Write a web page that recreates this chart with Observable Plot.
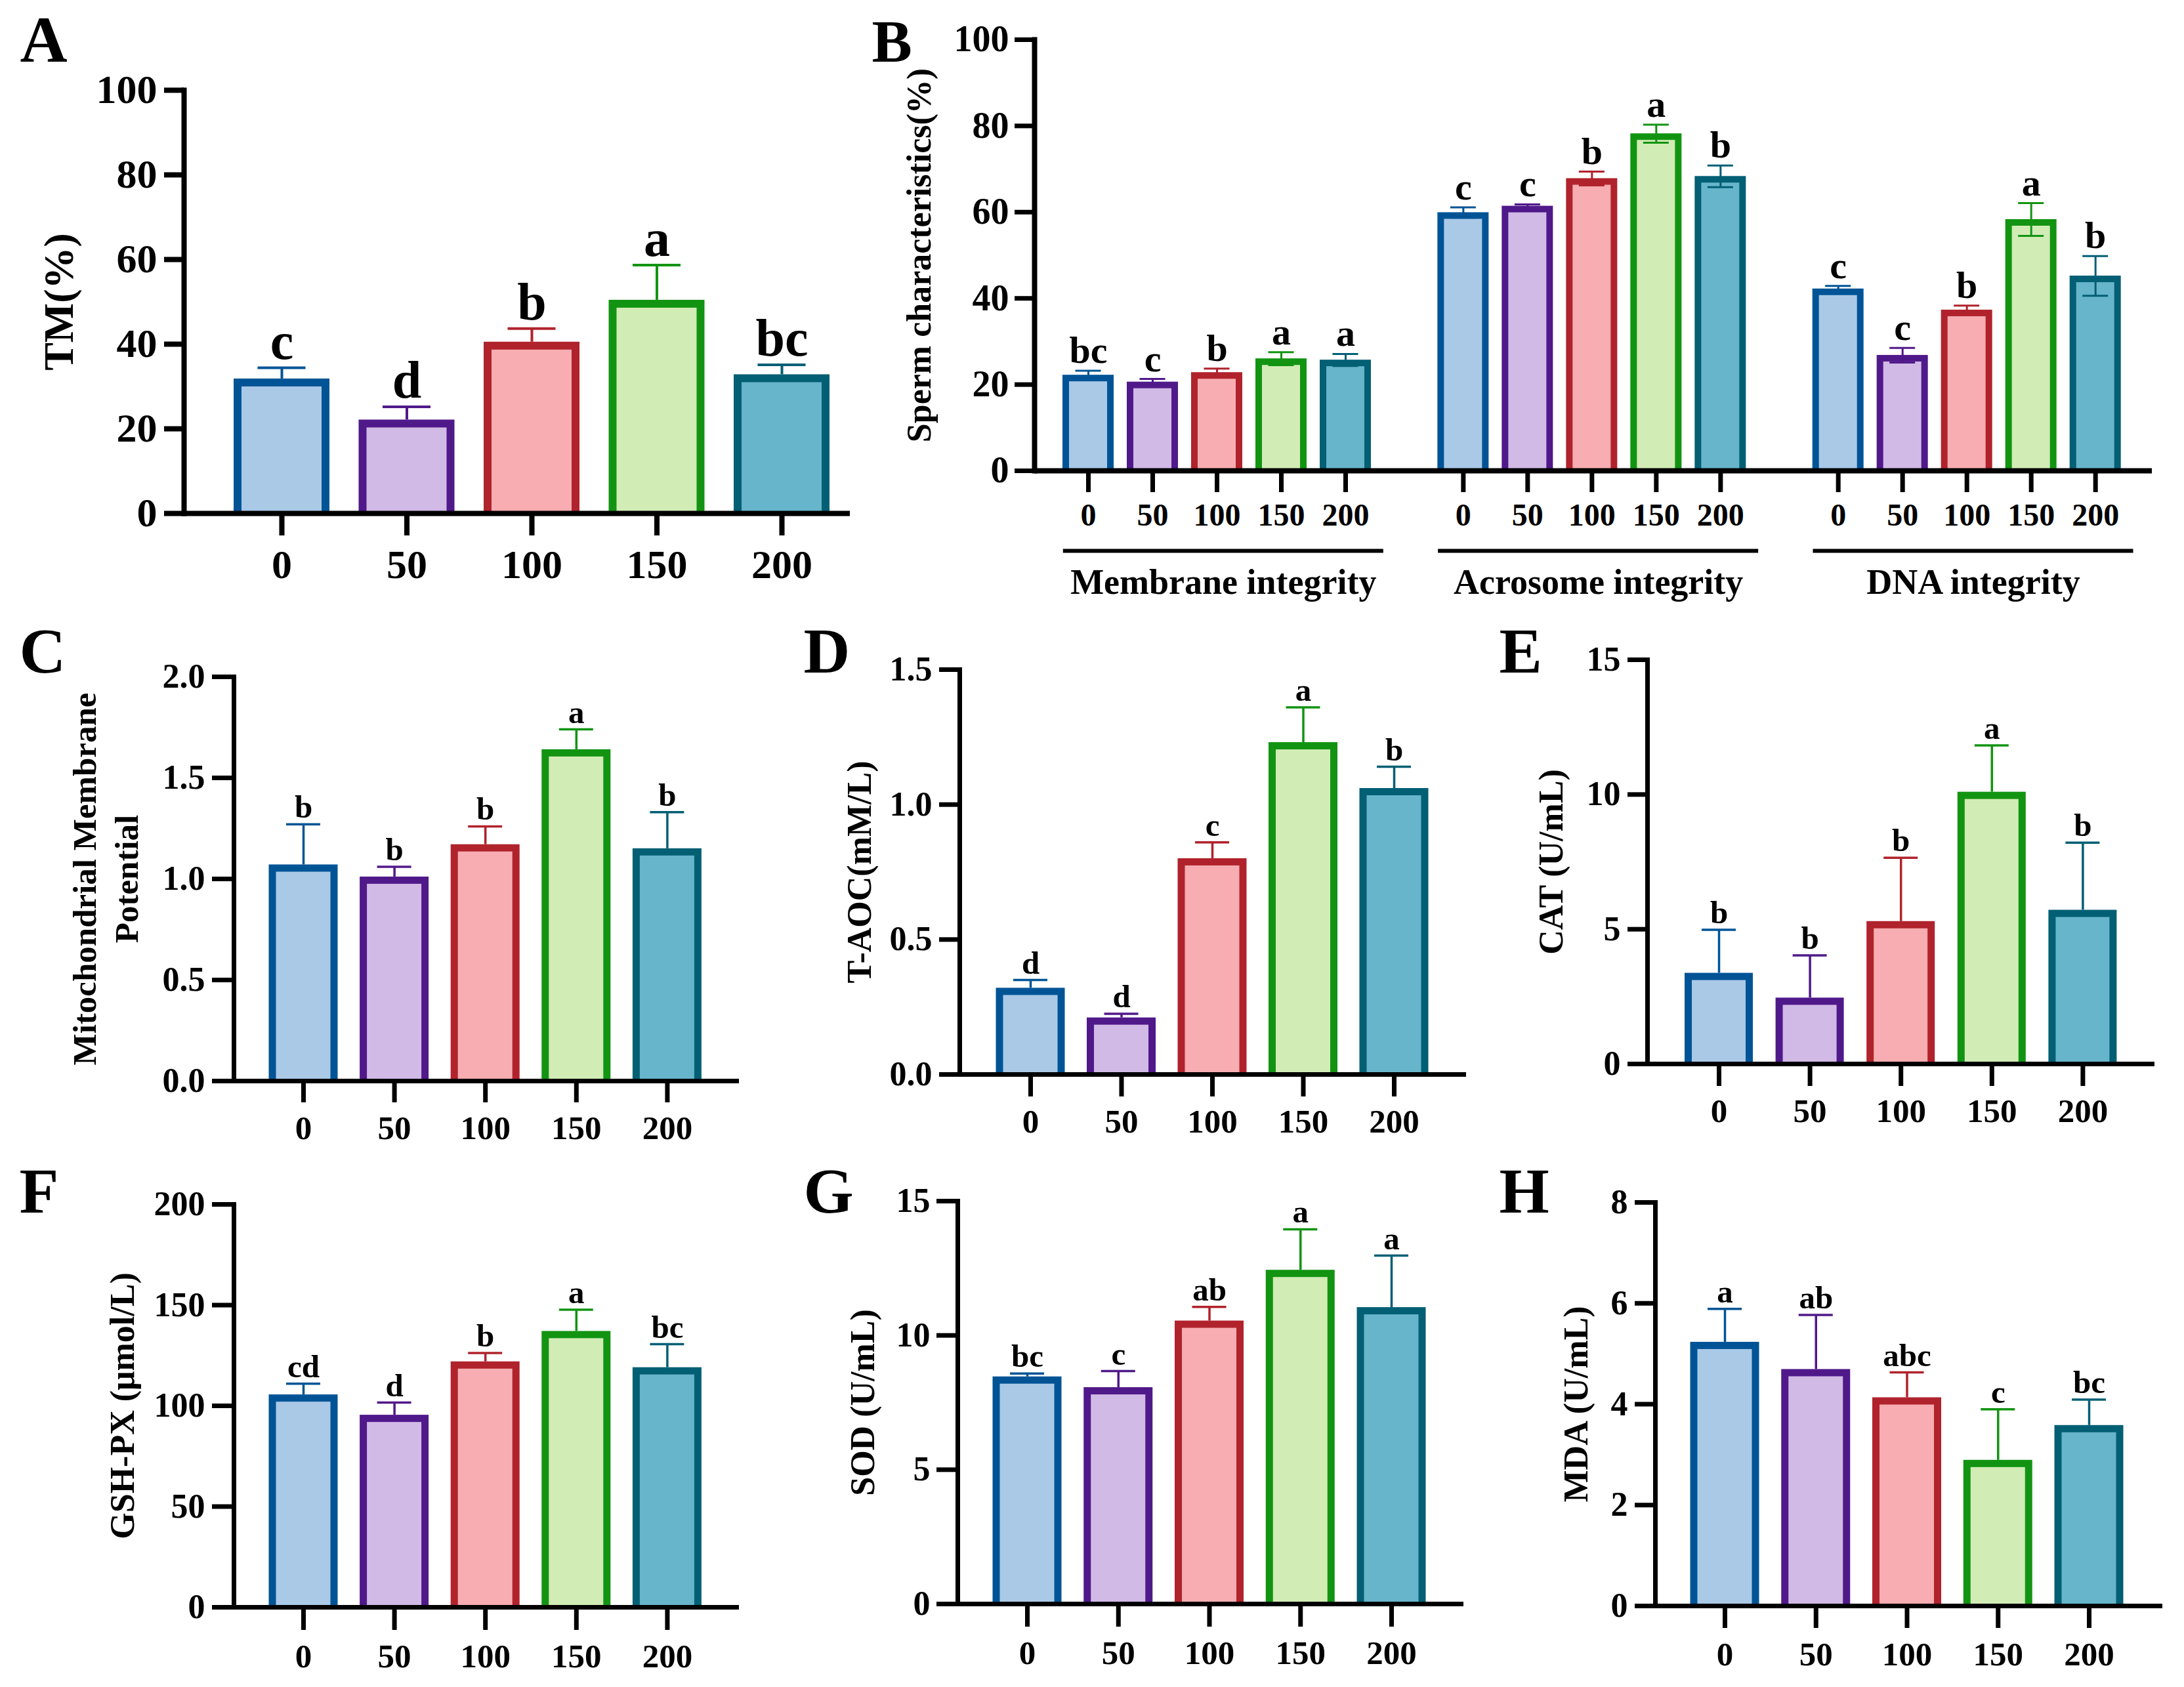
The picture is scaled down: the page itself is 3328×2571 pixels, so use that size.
<!DOCTYPE html>
<html><head><meta charset="utf-8">
<script src="https://cdn.jsdelivr.net/npm/d3@7"></script>
<script src="https://cdn.jsdelivr.net/npm/@observablehq/plot@0.6"></script>
<style>
html,body{margin:0;padding:0;background:#fff;}
#fig{position:relative;width:3328px;height:2571px;background:#fff;overflow:hidden;}
#fig > div{position:absolute;}
</style></head><body><div id="fig"></div>
<script>
// ---------------- DATA ----------------
const doses = ["0", "50", "100", "150", "200"];
const fillColors = ["#aac9e7", "#d1bae6", "#f7adb1", "#d2ecb6", "#67b5cb"];
const strokeColors = ["#005496", "#50198a", "#b0232c", "#129412", "#035f74"];

// A: total motility
const tmMean = [31.8, 22.1, 40.5, 50.4, 32.8];
const tmSD = [2.6, 3.1, 3.2, 8.3, 2.3];
const tmLetters = ["c", "d", "b", "a", "bc"];
const tmTicks = [0, 20, 40, 60, 80, 100];

// B: sperm characteristics
const spermGroups = ["Membrane integrity", "Acrosome integrity", "DNA integrity"];
const membraneMean = [22.2, 20.6, 22.8, 26.0, 25.7];
const membraneSD = [1.0, 0.7, 0.9, 1.5, 1.4];
const membraneLetters = ["bc", "c", "b", "a", "a"];
const acrosomeMean = [59.9, 61.4, 67.8, 78.2, 68.3];
const acrosomeSD = [1.2, 0.4, 1.6, 2.1, 2.5];
const acrosomeLetters = ["c", "c", "b", "a", "b"];
const dnaMean = [42.2, 26.8, 37.3, 58.3, 45.2];
const dnaSD = [0.7, 1.7, 1.0, 3.8, 4.6];
const dnaLetters = ["c", "c", "b", "a", "b"];
const spermTicks = [0, 20, 40, 60, 80, 100];

// C: mitochondrial membrane potential
const mmpMean = [1.07, 1.01, 1.17, 1.64, 1.15];
const mmpSD = [0.20, 0.05, 0.09, 0.10, 0.18];
const mmpLetters = ["b", "b", "b", "a", "b"];
const mmpTicks = [0, 0.5, 1.0, 1.5, 2.0];

// D: T-AOC
const taocMean = [0.32, 0.21, 0.80, 1.23, 1.06];
const taocSD = [0.03, 0.015, 0.06, 0.13, 0.08];
const taocLetters = ["d", "d", "c", "a", "b"];
const taocTicks = [0, 0.5, 1.0, 1.5];

// E: CAT
const catMean = [3.37, 2.45, 5.29, 10.09, 5.71];
const catSD = [1.61, 1.58, 2.36, 1.73, 2.50];
const catLetters = ["b", "b", "b", "a", "b"];
const catTicks = [0, 5, 10, 15];

// F: GSH-PX
const gshMean = [105.5, 95.4, 121.9, 137.0, 119.0];
const gshSD = [5.5, 6.2, 4.3, 10.7, 11.6];
const gshLetters = ["cd", "d", "b", "a", "bc"];
const gshTicks = [0, 50, 100, 150, 200];

// G: SOD
const sodMean = [8.46, 8.06, 10.54, 12.43, 11.04];
const sodSD = [0.12, 0.61, 0.52, 1.52, 1.93];
const sodLetters = ["bc", "c", "ab", "a", "a"];
const sodTicks = [0, 5, 10, 15];

// H: MDA
const mdaMean = [5.23, 4.69, 4.13, 2.89, 3.58];
const mdaSD = [0.66, 1.08, 0.50, 1.01, 0.51];
const mdaLetters = ["a", "ab", "abc", "c", "bc"];
const mdaTicks = [0, 2, 4, 6, 8];

// ---------------- LAYOUT ----------------
const FONT = "'Liberation Serif', 'Times New Roman', serif";
const STYLE = `font-family: ${FONT}; font-weight: bold; background: transparent; max-width: none; overflow: visible; color: black;`;
const small = {barStroke: 11, errW: 3.5, capW: 52, letterSize: 49, letterDy: -10, yTickFont: 52, xTickFont: 51, ylabelSize: 52, axisW: 7, tickW: 7, tagSize: 98};

const layoutA = {box: [0, 0, 1330, 920], axisX: 280, topY: 137, zeroY: 782, rightX: 1295, c0: 429, step: 190.5, barW: 146,
  barStroke: 12, errW: 4, capW: 73, letterSize: 80, letterDy: -14, yTickSize: 30, yTickPad: 11, yTickFont: 62,
  xTickSize: 34, xTickPad: 20, xTickFont: 62, axisW: 8, tickW: 8, ylabelCx: 85, ylabelSize: 64, tagX: 30, tagY: 22, tagSize: 100};
const layoutC = {...small, box: [0, 920, 1150, 840], axisX: 356, topY: 1031, zeroY: 1647, rightX: 1126, c0: 462, step: 138.6, barW: 105,
  yTickSize: 33, yTickPad: 11, xTickSize: 33, xTickPad: 19, ylabelCx: 157, ylabelSize: 51, tagX: 29, tagY: 955};
const layoutD = {...small, box: [1150, 920, 1100, 840], axisX: 1462, topY: 1020, zeroY: 1637, rightX: 2234, c0: 1570, step: 138.5, barW: 105,
  yTickSize: 31, yTickPad: 11, xTickSize: 34, xTickPad: 18, ylabelCx: 1306, tagX: 1224, tagY: 955};
const layoutE = {...small, box: [2250, 920, 1078, 840], axisX: 2510, topY: 1005, zeroY: 1621, rightX: 3283, c0: 2619, step: 138.6, barW: 104,
  yTickSize: 30, yTickPad: 11, xTickSize: 34, xTickPad: 18, ylabelCx: 2360, tagX: 2284, tagY: 955};
const layoutF = {...small, box: [0, 1760, 1150, 811], axisX: 356, topY: 1835, zeroY: 2449, rightX: 1126, c0: 462, step: 138.6, barW: 105,
  yTickSize: 33, yTickPad: 11, xTickSize: 35, xTickPad: 20, ylabelCx: 183, tagX: 29, tagY: 1778};
const layoutG = {...small, box: [1150, 1760, 1100, 811], axisX: 1459, topY: 1830, zeroY: 2444, rightX: 2230, c0: 1565, step: 138.75, barW: 105,
  yTickSize: 32, yTickPad: 10, xTickSize: 35, xTickPad: 20, ylabelCx: 1311, tagX: 1224, tagY: 1778};
const layoutH = {...small, box: [2250, 1760, 1078, 811], axisX: 2522, topY: 1832, zeroY: 2447, rightX: 3295, c0: 2628, step: 138.75, barW: 105,
  yTickSize: 31, yTickPad: 11, xTickSize: 34, xTickPad: 20, ylabelCx: 2398, tagX: 2284, tagY: 1778};
const layoutB = {box: [1300, 0, 2028, 940], axisX: 1576, topY: 60, zeroY: 717, rightX: 3279, p0: 1658, step: 98, groupStride: 5.83,
  barW: 78, barStroke: 10, errW: 3, capW: 39, letterSize: 58, letterDy: -12, yTickSize: 30, yTickPad: 9, yTickFont: 56,
  xTickSize: 33, xTickPad: 16, xTickFont: 48, axisW: 8, tickW: 7, ylabelCx: 1397, ylabelSize: 52, tagX: 1328, tagY: 28, tagSize: 92,
  ulY: 839, ulW: 6, ulShift: 0.1, ulHalf: 2.49, glY: 887, glSize: 54};

// ---------------- PANELS ----------------
function yLabelMark(L, label) {
  return Plot.text([label], {text: d => d, frameAnchor: "left", rotate: -90, dx: L.ylabelCx - L.axisX,
    textAnchor: "middle", lineAnchor: "middle", lineHeight: 1.25, fontSize: L.ylabelSize, fontWeight: "bold", fill: "black"});
}
function tagMark(L, tag) {
  return Plot.text([tag], {text: d => d, frameAnchor: "top-left", dx: L.tagX - L.axisX, dy: L.tagY - L.topY,
    textAnchor: "start", lineAnchor: "top", fontSize: L.tagSize, fontWeight: "bold", fill: "black"});
}

function bandPanel(L, mean, sd, letters, ticks, fmt, ylabel, tag) {
  const [bx, by, bw, bh] = L.box;
  const rows = doses.map((d, i) => ({dose: d, mean: mean[i], top: mean[i] + sd[i], letter: letters[i],
    fill: fillColors[i], stroke: strokeColors[i]}));
  const pad = 1 - L.barW / L.step;
  const sw = L.barStroke;
  const capInset = (L.barW - L.capW) / 2;
  return Plot.plot({
    width: bw, height: bh,
    marginLeft: L.axisX - bx, marginRight: bx + bw - L.rightX,
    marginTop: L.topY - by, marginBottom: by + bh - L.zeroY,
    style: STYLE,
    x: {type: "band", domain: doses, range: [L.c0 - L.step / 2 - bx, L.c0 + L.step * (doses.length - 0.5) - bx],
        paddingInner: pad, paddingOuter: pad / 2, round: false},
    y: {domain: [0, ticks[ticks.length - 1]]},
    color: {type: "identity"},
    marks: [
      Plot.barY(rows, {x: "dose", y: "mean", fill: "fill", stroke: "stroke", strokeWidth: sw,
        insetTop: sw / 2, insetLeft: sw / 2, insetRight: sw / 2, insetBottom: -sw / 2, clip: "frame"}),
      Plot.ruleX(rows, {x: "dose", y1: "mean", y2: "top", stroke: "stroke", strokeWidth: L.errW}),
      Plot.tickY(rows, {x: "dose", y: "top", stroke: "stroke", strokeWidth: L.errW, insetLeft: capInset, insetRight: capInset}),
      Plot.text(rows, {x: "dose", y: "top", text: "letter", lineAnchor: "bottom", dy: L.letterDy,
        fontSize: L.letterSize, fontWeight: "bold", fill: "black"}),
      Plot.ruleY([0], {strokeWidth: L.axisW, stroke: "black"}),
      Plot.frame({anchor: "left", strokeWidth: L.axisW, stroke: "black"}),
      Plot.axisY({ticks, tickFormat: fmt, tickSize: L.yTickSize, tickPadding: L.yTickPad, fontSize: L.yTickFont,
        strokeWidth: L.tickW, label: null}),
      Plot.axisX({tickSize: L.xTickSize, tickPadding: L.xTickPad, fontSize: L.xTickFont, strokeWidth: L.tickW, label: null}),
      yLabelMark(L, ylabel),
      tagMark(L, tag)
    ]
  });
}

function spermPanel(L) {
  const [bx, by, bw, bh] = L.box;
  const means = [membraneMean, acrosomeMean, dnaMean];
  const sds = [membraneSD, acrosomeSD, dnaSD];
  const lets = [membraneLetters, acrosomeLetters, dnaLetters];
  const rows = [];
  spermGroups.forEach((g, gi) => doses.forEach((d, i) => {
    rows.push({group: g, dose: d, pos: gi * L.groupStride + i, mean: means[gi][i],
      lo: means[gi][i] - sds[gi][i], hi: means[gi][i] + sds[gi][i], letter: lets[gi][i],
      fill: fillColors[i], stroke: strokeColors[i]});
  }));
  const groupRows = spermGroups.map((g, gi) => ({name: g, center: gi * L.groupStride + (doses.length - 1) / 2}));
  const posLabel = new Map(rows.map(r => [r.pos, r.dose]));
  const half = L.barW / L.step / 2;
  const capHalf = L.capW / L.step / 2;
  const sw = L.barStroke;
  return Plot.plot({
    width: bw, height: bh,
    marginLeft: L.axisX - bx, marginRight: bx + bw - L.rightX,
    marginTop: L.topY - by, marginBottom: by + bh - L.zeroY,
    style: STYLE,
    x: {domain: [(L.axisX - L.p0) / L.step, (L.rightX - L.p0) / L.step]},
    y: {domain: [0, spermTicks[spermTicks.length - 1]]},
    color: {type: "identity"},
    marks: [
      Plot.rect(rows, {x1: d => d.pos - half, x2: d => d.pos + half, y1: () => 0, y2: "mean",
        fill: "fill", stroke: "stroke", strokeWidth: sw,
        insetTop: sw / 2, insetLeft: sw / 2, insetRight: sw / 2, insetBottom: -sw / 2, clip: "frame"}),
      Plot.ruleX(rows, {x: "pos", y1: "lo", y2: "hi", stroke: "stroke", strokeWidth: L.errW}),
      Plot.ruleY(rows, {y: "hi", x1: d => d.pos - capHalf, x2: d => d.pos + capHalf, stroke: "stroke", strokeWidth: L.errW}),
      Plot.ruleY(rows, {y: "lo", x1: d => d.pos - capHalf, x2: d => d.pos + capHalf, stroke: "stroke", strokeWidth: L.errW}),
      Plot.text(rows, {x: "pos", y: "hi", text: "letter", lineAnchor: "bottom", dy: L.letterDy,
        fontSize: L.letterSize, fontWeight: "bold", fill: "black"}),
      Plot.ruleY([0], {strokeWidth: L.axisW, stroke: "black"}),
      Plot.frame({anchor: "left", strokeWidth: L.axisW, stroke: "black"}),
      Plot.axisY({ticks: spermTicks, tickSize: L.yTickSize, tickPadding: L.yTickPad, fontSize: L.yTickFont,
        strokeWidth: L.tickW, label: null}),
      Plot.axisX({ticks: rows.map(r => r.pos), tickFormat: d => posLabel.get(d), tickSize: L.xTickSize,
        tickPadding: L.xTickPad, fontSize: L.xTickFont, strokeWidth: L.tickW, label: null}),
      Plot.ruleY(groupRows, {y: () => 0, x1: g => g.center + L.ulShift - L.ulHalf, x2: g => g.center + L.ulShift + L.ulHalf,
        dy: L.ulY - L.zeroY, strokeWidth: L.ulW, stroke: "black"}),
      Plot.text(groupRows, {x: g => g.center + L.ulShift, y: () => 0, text: "name", dy: L.glY - L.zeroY,
        lineAnchor: "middle", fontSize: L.glSize, fontWeight: "bold", fill: "black"}),
      yLabelMark(L, "Sperm characteristics(%)"),
      tagMark(L, "B")
    ]
  });
}

const fig = document.getElementById("fig");
function place(L, svg) {
  const div = document.createElement("div");
  div.style.left = L.box[0] + "px";
  div.style.top = L.box[1] + "px";
  div.appendChild(svg);
  fig.appendChild(div);
}
const f1 = d3.format(".1f");
place(layoutA, bandPanel(layoutA, tmMean, tmSD, tmLetters, tmTicks, d => String(d), "TM(%)", "A"));
place(layoutB, spermPanel(layoutB));
place(layoutC, bandPanel(layoutC, mmpMean, mmpSD, mmpLetters, mmpTicks, f1, "Mitochondrial Membrane\nPotential", "C"));
place(layoutD, bandPanel(layoutD, taocMean, taocSD, taocLetters, taocTicks, f1, "T-AOC(mM/L)", "D"));
place(layoutE, bandPanel(layoutE, catMean, catSD, catLetters, catTicks, d => String(d), "CAT (U/mL)", "E"));
place(layoutF, bandPanel(layoutF, gshMean, gshSD, gshLetters, gshTicks, d => String(d), "GSH-PX (μmol/L)", "F"));
place(layoutG, bandPanel(layoutG, sodMean, sodSD, sodLetters, sodTicks, d => String(d), "SOD (U/mL)", "G"));
place(layoutH, bandPanel(layoutH, mdaMean, mdaSD, mdaLetters, mdaTicks, d => String(d), "MDA (U/mL)", "H"));
</script>
</body></html>
